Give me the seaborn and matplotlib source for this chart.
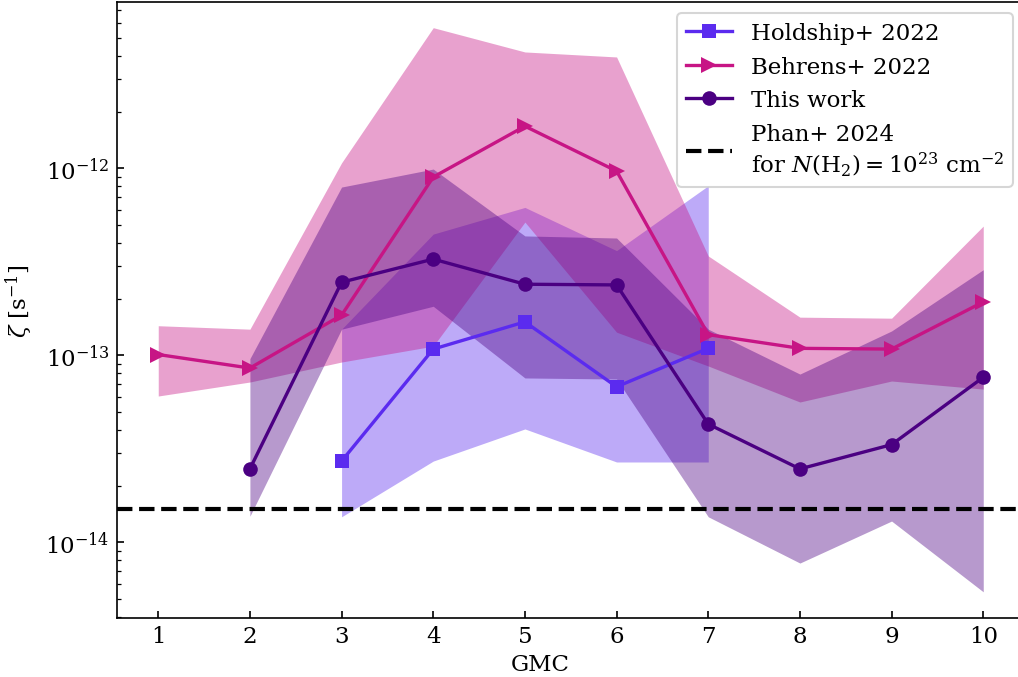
import numpy as np
import pandas as pd
import matplotlib
matplotlib.use("Agg")
import matplotlib.pyplot as plt
import seaborn as sns
from matplotlib.lines import Line2D
from matplotlib.ticker import LogLocator, NullFormatter

# ---------------- data ----------------
gmc_all = [1, 2, 3, 4, 5, 6, 7, 8, 9, 10]

# Holdship+ 2022
hold_x = [3, 4, 5, 6, 7]
hold_y = [2.72e-14, 1.08e-13, 1.51e-13, 6.79e-14, 1.09e-13]
hold_lo = [1.37e-14, 2.72e-14, 4.04e-14, 2.69e-14, 2.69e-14]
hold_hi = [1.38e-13, 4.45e-13, 6.18e-13, 3.63e-13, 8.07e-13]

# Behrens+ 2022
beh_x = [1, 2, 3, 4, 5, 6, 7, 8, 9, 10]
beh_y = [1.01e-13, 8.55e-14, 1.64e-13, 8.98e-13, 1.68e-12, 9.67e-13, 1.29e-13, 1.09e-13, 1.08e-13, 1.93e-13]
beh_lo = [6.06e-14, 7.20e-14, 9.21e-14, 1.12e-13, 5.16e-13, 1.33e-13, 8.77e-14, 5.63e-14, 7.29e-14, 6.60e-14]
beh_hi = [1.44e-13, 1.38e-13, 1.07e-12, 5.65e-12, 4.19e-12, 3.94e-12, 3.40e-13, 1.60e-13, 1.58e-13, 4.91e-13]

# This work
tw_x = [2, 3, 4, 5, 6, 7, 8, 9, 10]
tw_y = [2.47e-14, 2.46e-13, 3.27e-13, 2.40e-13, 2.38e-13, 4.29e-14, 2.47e-14, 3.33e-14, 7.63e-14]
tw_lo = [1.38e-14, 1.38e-13, 1.83e-13, 7.57e-14, 7.47e-14, 1.37e-14, 7.75e-15, 1.30e-14, 5.44e-15]
tw_hi = [9.6e-14, 7.94e-13, 9.91e-13, 4.35e-13, 4.24e-13, 1.38e-13, 7.94e-14, 1.35e-13, 2.87e-13]

# Phan+ 2024
phan_level = 1.5e-14

labels = ["Holdship+ 2022", "Behrens+ 2022", "This work",
          "Phan+ 2024\nfor $N(\\mathrm{H_2}) = 10^{23}$ cm$^{-2}$"]
xtick_labels = [str(v) for v in gmc_all]
ytick_vals = [1e-14, 1e-13, 1e-12]
ytick_labels = [r"$10^{-14}$", r"$10^{-13}$", r"$10^{-12}$"]

# ---------------- style ----------------
plt.rcParams["font.family"] = ["DejaVu Serif"]
plt.rcParams["mathtext.fontset"] = "dejavuserif"
plt.rcParams["font.size"] = 11
plt.rcParams["xtick.direction"] = "in"
plt.rcParams["ytick.direction"] = "in"

c_hold = "#5b2bef"
c_beh = "#c71585"
c_tw = "#4b0082"

DPI = 150
fig = plt.figure(figsize=(1018 / DPI, 678 / DPI), dpi=DPI)
ax = fig.add_axes([117.0 / 1018, 59.0 / 678, 907.5 / 1018, 616.3 / 678])

# bands
ax.fill_between(hold_x, hold_lo, hold_hi, color=c_hold, alpha=0.4, linewidth=0)
ax.fill_between(beh_x, beh_lo, beh_hi, color=c_beh, alpha=0.4, linewidth=0)
ax.fill_between(tw_x, tw_lo, tw_hi, color=c_tw, alpha=0.4, linewidth=0)

# lines
df_h = pd.DataFrame({"GMC": hold_x, "zeta": hold_y})
df_b = pd.DataFrame({"GMC": beh_x, "zeta": beh_y})
df_t = pd.DataFrame({"GMC": tw_x, "zeta": tw_y})
sns.lineplot(data=df_h, x="GMC", y="zeta", ax=ax, color=c_hold, marker="s",
             markersize=7, linewidth=1.6, markeredgewidth=0, legend=False)
sns.lineplot(data=df_b, x="GMC", y="zeta", ax=ax, color=c_beh, marker=">",
             markersize=7.5, linewidth=1.6, markeredgewidth=0, legend=False)
sns.lineplot(data=df_t, x="GMC", y="zeta", ax=ax, color=c_tw, marker="o",
             markersize=7, linewidth=1.6, markeredgewidth=0, legend=False)

ax.axhline(phan_level, color="black", linestyle="--", linewidth=2)

ax.set_yscale("log")
ax.set_xlim(0.55, 10.45)
ax.set_ylim(3.94e-15, 7.78e-12)
ax.set_xticks(gmc_all)
ax.set_xticklabels(xtick_labels)
ax.set_yticks(ytick_vals)
ax.set_yticklabels(ytick_labels)
ax.yaxis.set_minor_locator(LogLocator(base=10, subs=np.arange(2, 10)))
ax.yaxis.set_minor_formatter(NullFormatter())
ax.set_xlabel("GMC")
ax.set_ylabel(r"$\zeta$ [s$^{-1}$]")
ax.xaxis.set_label_coords((540 - 117) / 907.5, -0.057)
ax.yaxis.set_label_coords(-0.09, 0.515)
ax.tick_params(which="both", top=False, right=False)

handles = [
    Line2D([], [], color=c_hold, marker="s", markersize=7, linewidth=1.6, markeredgewidth=0),
    Line2D([], [], color=c_beh, marker=">", markersize=7.5, linewidth=1.6, markeredgewidth=0),
    Line2D([], [], color=c_tw, marker="o", markersize=7, linewidth=1.6, markeredgewidth=0),
    Line2D([], [], color="black", linestyle="--", linewidth=2),
]
ax.legend(handles, labels, loc="upper right")

fig.savefig("out.png", dpi=DPI)
